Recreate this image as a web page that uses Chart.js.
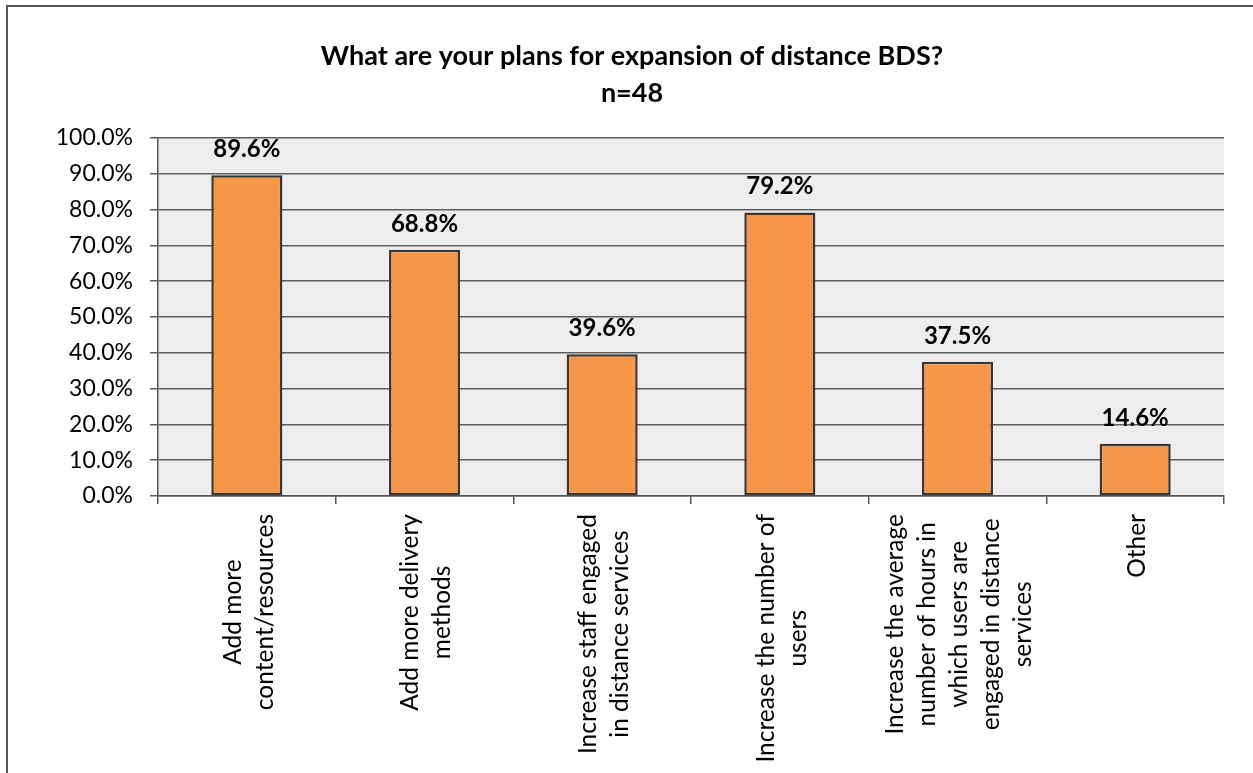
<!DOCTYPE html>
<html>
<head>
<meta charset="utf-8">
<title>Distance BDS expansion plans</title>
<script src="https://cdn.jsdelivr.net/npm/chart.js@4.4.1/dist/chart.umd.min.js"></script>
<style>
  html, body { margin: 0; padding: 0; background: #fff; overflow: hidden; }
  canvas { display: block; }
</style>
</head>
<body>
<canvas id="plans-chart" width="1253" height="773"></canvas>
<script>
// survey answers (n=48), percent of respondents
var categories = [
    ['Add more', 'content/resources'],
    ['Add more delivery', 'methods'],
    ['Increase staff engaged', 'in distance services'],
    ['Increase the number of', 'users'],
    ['Increase the average', 'number of hours in', 'which users are', 'engaged in distance', 'services'],
    ['Other']
];
var percents = [89.6, 68.8, 39.6, 79.2, 37.5, 14.6];
var titleLines = ['What are your plans for expansion of distance BDS?', 'n=48'];
var yTicks = [0, 10, 20, 30, 40, 50, 60, 70, 80, 90, 100];

var FONT = 'Lato';

// grey plot background + frame around the whole chart
var backdrop = {
    id: 'backdrop',
    beforeDraw: function (chart) {
        var ctx = chart.ctx, a = chart.chartArea;
        ctx.save();
        ctx.fillStyle = '#ededed';
        ctx.fillRect(a.left, a.top, a.right - a.left, a.bottom - a.top);
        ctx.strokeStyle = '#555';
        ctx.lineWidth = 2;
        ctx.beginPath();
        ctx.moveTo(7, chart.height + 2);
        ctx.lineTo(7, 6);
        ctx.lineTo(chart.width + 2, 6);
        ctx.stroke();
        ctx.restore();
    }
};

// value over each bar
var barValues = {
    id: 'barValues',
    afterDatasetsDraw: function (chart) {
        var ctx = chart.ctx;
        var meta = chart.getDatasetMeta(0);
        ctx.save();
        ctx.font = 'bold 24px ' + FONT;
        ctx.fillStyle = '#000';
        ctx.textAlign = 'center';
        ctx.textBaseline = 'alphabetic';
        meta.data.forEach(function (bar, i) {
            ctx.fillText(percents[i].toFixed(1) + '%', bar.x, bar.y - 18);
        });
        ctx.restore();
    }
};

// vertical category names, lines centred inside each block
var categoryNames = {
    id: 'categoryNames',
    afterDraw: function (chart) {
        var ctx = chart.ctx;
        var xs = chart.scales.x;
        var lineH = 32;
        ctx.save();
        ctx.font = '24.5px ' + FONT;
        ctx.fillStyle = '#000';
        ctx.textAlign = 'center';
        ctx.textBaseline = 'middle';
        categories.forEach(function (lines, i) {
            var longest = 0;
            lines.forEach(function (l) { longest = Math.max(longest, ctx.measureText(l).width); });
            var x = xs.getPixelForTick(i);
            var y = xs.top + 18 + longest / 2;
            ctx.save();
            ctx.translate(x, y);
            ctx.rotate(-Math.PI / 2);
            lines.forEach(function (l, j) {
                ctx.fillText(l, 0, (j - (lines.length - 1) / 2) * lineH + 2);
            });
            ctx.restore();
        });
        ctx.restore();
    }
};

new Chart(document.getElementById('plans-chart'), {
    type: 'bar',
    data: {
        labels: categories,
        datasets: [{
            data: percents,
            backgroundColor: '#f79646',
            borderColor: '#383838',
            borderWidth: 2.5,
            borderSkipped: false,
            barPercentage: 0.4,
            categoryPercentage: 1.0
        }]
    },
    options: {
        responsive: false,
        animation: false,
        layout: { padding: { left: 40, right: 29, top: 0, bottom: 0 } },
        plugins: {
            legend: { display: false },
            tooltip: { enabled: false },
            title: {
                display: true,
                text: titleLines,
                color: '#000',
                font: { family: FONT, size: 27, weight: 'bold', lineHeight: 1.37 },
                padding: { top: 38, bottom: 26 }
            }
        },
        scales: {
            x: {
                grid: {
                    offset: true,
                    drawOnChartArea: false,
                    drawTicks: true,
                    tickLength: 8,
                    color: '#555',
                    lineWidth: 1.5
                },
                border: { color: '#555', width: 1.5 },
                ticks: { display: false },
                afterFit: function (s) { s.height = 277; }
            },
            y: {
                min: 0,
                max: 100,
                afterBuildTicks: function (s) {
                    s.ticks = yTicks.map(function (v) { return { value: v }; });
                },
                ticks: {
                    color: '#000',
                    padding: 17,
                    font: { family: FONT, size: 23 },
                    callback: function (v) { return v.toFixed(1) + '%'; }
                },
                grid: { color: '#5e5e5e', lineWidth: 1.5, tickLength: 8 },
                border: { color: '#555', width: 1.5 },
                afterFit: function (s) { s.width = 118; }
            }
        }
    },
    plugins: [backdrop, barValues, categoryNames]
});
</script>
</body>
</html>
